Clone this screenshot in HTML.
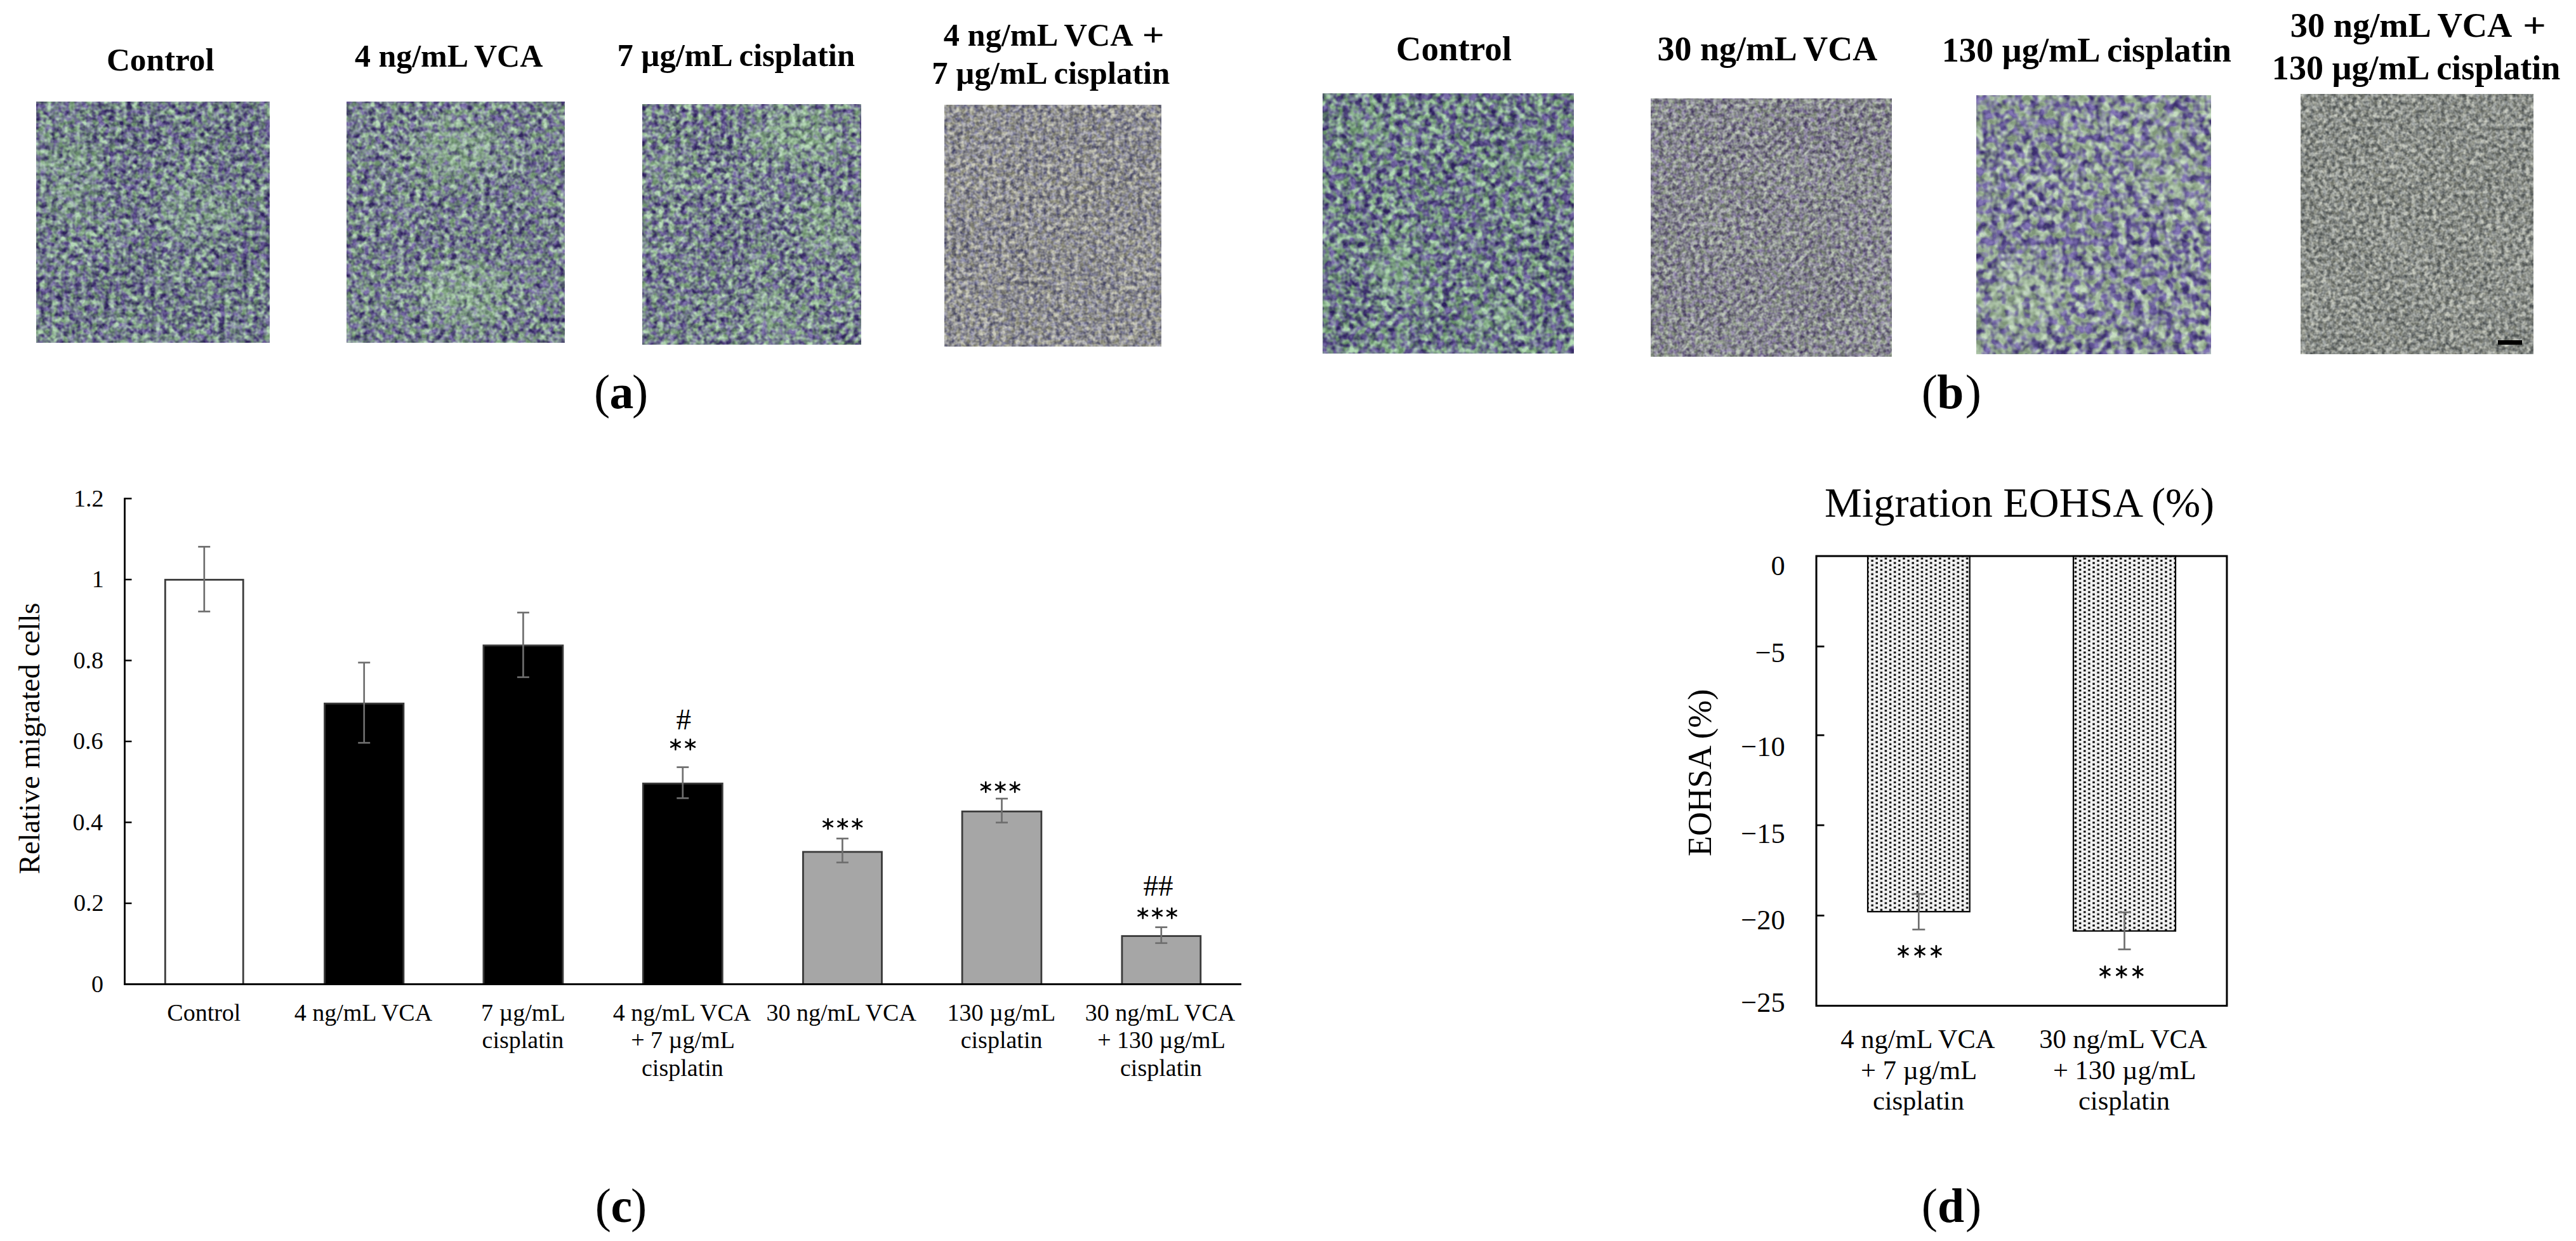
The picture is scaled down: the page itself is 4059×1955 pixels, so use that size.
<!DOCTYPE html>
<html><head><meta charset="utf-8"><style>
html,body{margin:0;padding:0;background:#fff;}
body{width:4059px;height:1955px;overflow:hidden;}
svg{display:block;}
text{font-family:"Liberation Serif",serif;}
</style></head><body>
<svg width="4059" height="1955" viewBox="0 0 4059 1955">
<defs>
<filter id="fm1" x="0" y="0" width="100%" height="100%" color-interpolation-filters="sRGB">
<feTurbulence type="fractalNoise" baseFrequency="0.11" numOctaves="2" seed="3" result="n0"/>
<feComponentTransfer in="n0" result="fine"><feFuncA type="linear" slope="0" intercept="1"/></feComponentTransfer>
<feTurbulence type="fractalNoise" baseFrequency="0.012" numOctaves="2" seed="103" result="c0"/>
<feComponentTransfer in="c0" result="coarse"><feFuncA type="linear" slope="0" intercept="1"/></feComponentTransfer>
<feComposite in="fine" in2="coarse" operator="arithmetic" k1="0" k2="1" k3="0.12" k4="-0.060" result="mix"/>
<feComponentTransfer in="mix" result="ct"><feFuncR type="linear" slope="2.4" intercept="-0.700"/><feFuncG type="linear" slope="2.2" intercept="-0.600"/><feFuncA type="linear" slope="0" intercept="1"/></feComponentTransfer>
<feColorMatrix in="ct" type="matrix" values="0.230 0.300 0 0 0.180 0.420 0.300 0 0 0.130 0.060 0.300 0 0 0.360 0 0 0 0 1"/>
<feGaussianBlur stdDeviation="0.6"/>
</filter>
<filter id="fm1g" x="0" y="0" width="100%" height="100%" color-interpolation-filters="sRGB">
<feTurbulence type="fractalNoise" baseFrequency="0.11" numOctaves="2" seed="3" result="n0"/>
<feComponentTransfer in="n0" result="fine"><feFuncA type="linear" slope="0" intercept="1"/></feComponentTransfer>
<feTurbulence type="fractalNoise" baseFrequency="0.012" numOctaves="2" seed="103" result="c0"/>
<feComponentTransfer in="c0" result="coarse"><feFuncA type="linear" slope="0" intercept="1"/></feComponentTransfer>
<feComposite in="fine" in2="coarse" operator="arithmetic" k1="0" k2="1" k3="0.12" k4="-0.060" result="mix"/>
<feComponentTransfer in="mix" result="ct"><feFuncR type="linear" slope="2.4" intercept="-0.250"/><feFuncG type="linear" slope="2.2" intercept="-0.600"/><feFuncA type="linear" slope="0" intercept="1"/></feComponentTransfer>
<feColorMatrix in="ct" type="matrix" values="0.230 0.300 0 0 0.180 0.420 0.300 0 0 0.130 0.060 0.300 0 0 0.360 0 0 0 0 1"/>
<feGaussianBlur stdDeviation="0.6"/>
</filter>
<filter id="fm2" x="0" y="0" width="100%" height="100%" color-interpolation-filters="sRGB">
<feTurbulence type="fractalNoise" baseFrequency="0.11" numOctaves="2" seed="7" result="n0"/>
<feComponentTransfer in="n0" result="fine"><feFuncA type="linear" slope="0" intercept="1"/></feComponentTransfer>
<feTurbulence type="fractalNoise" baseFrequency="0.012" numOctaves="2" seed="107" result="c0"/>
<feComponentTransfer in="c0" result="coarse"><feFuncA type="linear" slope="0" intercept="1"/></feComponentTransfer>
<feComposite in="fine" in2="coarse" operator="arithmetic" k1="0" k2="1" k3="0.12" k4="-0.060" result="mix"/>
<feComponentTransfer in="mix" result="ct"><feFuncR type="linear" slope="2.4" intercept="-0.700"/><feFuncG type="linear" slope="2.2" intercept="-0.600"/><feFuncA type="linear" slope="0" intercept="1"/></feComponentTransfer>
<feColorMatrix in="ct" type="matrix" values="0.240 0.300 0 0 0.190 0.430 0.300 0 0 0.140 0.060 0.300 0 0 0.370 0 0 0 0 1"/>
<feGaussianBlur stdDeviation="0.6"/>
</filter>
<filter id="fm2g" x="0" y="0" width="100%" height="100%" color-interpolation-filters="sRGB">
<feTurbulence type="fractalNoise" baseFrequency="0.11" numOctaves="2" seed="7" result="n0"/>
<feComponentTransfer in="n0" result="fine"><feFuncA type="linear" slope="0" intercept="1"/></feComponentTransfer>
<feTurbulence type="fractalNoise" baseFrequency="0.012" numOctaves="2" seed="107" result="c0"/>
<feComponentTransfer in="c0" result="coarse"><feFuncA type="linear" slope="0" intercept="1"/></feComponentTransfer>
<feComposite in="fine" in2="coarse" operator="arithmetic" k1="0" k2="1" k3="0.12" k4="-0.060" result="mix"/>
<feComponentTransfer in="mix" result="ct"><feFuncR type="linear" slope="2.4" intercept="-0.250"/><feFuncG type="linear" slope="2.2" intercept="-0.600"/><feFuncA type="linear" slope="0" intercept="1"/></feComponentTransfer>
<feColorMatrix in="ct" type="matrix" values="0.240 0.300 0 0 0.190 0.430 0.300 0 0 0.140 0.060 0.300 0 0 0.370 0 0 0 0 1"/>
<feGaussianBlur stdDeviation="0.6"/>
</filter>
<filter id="fm3" x="0" y="0" width="100%" height="100%" color-interpolation-filters="sRGB">
<feTurbulence type="fractalNoise" baseFrequency="0.11" numOctaves="2" seed="11" result="n0"/>
<feComponentTransfer in="n0" result="fine"><feFuncA type="linear" slope="0" intercept="1"/></feComponentTransfer>
<feTurbulence type="fractalNoise" baseFrequency="0.012" numOctaves="2" seed="111" result="c0"/>
<feComponentTransfer in="c0" result="coarse"><feFuncA type="linear" slope="0" intercept="1"/></feComponentTransfer>
<feComposite in="fine" in2="coarse" operator="arithmetic" k1="0" k2="1" k3="0.12" k4="-0.060" result="mix"/>
<feComponentTransfer in="mix" result="ct"><feFuncR type="linear" slope="2.4" intercept="-0.700"/><feFuncG type="linear" slope="2.2" intercept="-0.600"/><feFuncA type="linear" slope="0" intercept="1"/></feComponentTransfer>
<feColorMatrix in="ct" type="matrix" values="0.240 0.300 0 0 0.190 0.430 0.300 0 0 0.140 0.060 0.300 0 0 0.370 0 0 0 0 1"/>
<feGaussianBlur stdDeviation="0.6"/>
</filter>
<filter id="fm3g" x="0" y="0" width="100%" height="100%" color-interpolation-filters="sRGB">
<feTurbulence type="fractalNoise" baseFrequency="0.11" numOctaves="2" seed="11" result="n0"/>
<feComponentTransfer in="n0" result="fine"><feFuncA type="linear" slope="0" intercept="1"/></feComponentTransfer>
<feTurbulence type="fractalNoise" baseFrequency="0.012" numOctaves="2" seed="111" result="c0"/>
<feComponentTransfer in="c0" result="coarse"><feFuncA type="linear" slope="0" intercept="1"/></feComponentTransfer>
<feComposite in="fine" in2="coarse" operator="arithmetic" k1="0" k2="1" k3="0.12" k4="-0.060" result="mix"/>
<feComponentTransfer in="mix" result="ct"><feFuncR type="linear" slope="2.4" intercept="-0.250"/><feFuncG type="linear" slope="2.2" intercept="-0.600"/><feFuncA type="linear" slope="0" intercept="1"/></feComponentTransfer>
<feColorMatrix in="ct" type="matrix" values="0.240 0.300 0 0 0.190 0.430 0.300 0 0 0.140 0.060 0.300 0 0 0.370 0 0 0 0 1"/>
<feGaussianBlur stdDeviation="0.6"/>
</filter>
<filter id="fm4" x="0" y="0" width="100%" height="100%" color-interpolation-filters="sRGB">
<feTurbulence type="fractalNoise" baseFrequency="0.14" numOctaves="2" seed="13" result="n0"/>
<feComponentTransfer in="n0" result="fine"><feFuncA type="linear" slope="0" intercept="1"/></feComponentTransfer>
<feTurbulence type="fractalNoise" baseFrequency="0.012" numOctaves="2" seed="113" result="c0"/>
<feComponentTransfer in="c0" result="coarse"><feFuncA type="linear" slope="0" intercept="1"/></feComponentTransfer>
<feComposite in="fine" in2="coarse" operator="arithmetic" k1="0" k2="1" k3="0.1" k4="-0.050" result="mix"/>
<feComponentTransfer in="mix" result="ct"><feFuncR type="linear" slope="2.0" intercept="-0.400"/><feFuncG type="linear" slope="2.2" intercept="-0.600"/><feFuncA type="linear" slope="0" intercept="1"/></feComponentTransfer>
<feColorMatrix in="ct" type="matrix" values="0.230 0.300 0 0 0.270 0.230 0.300 0 0 0.270 0.050 0.300 0 0 0.390 0 0 0 0 1"/>
<feGaussianBlur stdDeviation="0.6"/>
</filter>
<filter id="fm4g" x="0" y="0" width="100%" height="100%" color-interpolation-filters="sRGB">
<feTurbulence type="fractalNoise" baseFrequency="0.14" numOctaves="2" seed="13" result="n0"/>
<feComponentTransfer in="n0" result="fine"><feFuncA type="linear" slope="0" intercept="1"/></feComponentTransfer>
<feTurbulence type="fractalNoise" baseFrequency="0.012" numOctaves="2" seed="113" result="c0"/>
<feComponentTransfer in="c0" result="coarse"><feFuncA type="linear" slope="0" intercept="1"/></feComponentTransfer>
<feComposite in="fine" in2="coarse" operator="arithmetic" k1="0" k2="1" k3="0.1" k4="-0.050" result="mix"/>
<feComponentTransfer in="mix" result="ct"><feFuncR type="linear" slope="2.0" intercept="0.050"/><feFuncG type="linear" slope="2.2" intercept="-0.600"/><feFuncA type="linear" slope="0" intercept="1"/></feComponentTransfer>
<feColorMatrix in="ct" type="matrix" values="0.230 0.300 0 0 0.270 0.230 0.300 0 0 0.270 0.050 0.300 0 0 0.390 0 0 0 0 1"/>
<feGaussianBlur stdDeviation="0.6"/>
</filter>
<filter id="fm5" x="0" y="0" width="100%" height="100%" color-interpolation-filters="sRGB">
<feTurbulence type="fractalNoise" baseFrequency="0.095" numOctaves="2" seed="17" result="n0"/>
<feComponentTransfer in="n0" result="fine"><feFuncA type="linear" slope="0" intercept="1"/></feComponentTransfer>
<feTurbulence type="fractalNoise" baseFrequency="0.012" numOctaves="2" seed="117" result="c0"/>
<feComponentTransfer in="c0" result="coarse"><feFuncA type="linear" slope="0" intercept="1"/></feComponentTransfer>
<feComposite in="fine" in2="coarse" operator="arithmetic" k1="0" k2="1" k3="0.12" k4="-0.060" result="mix"/>
<feComponentTransfer in="mix" result="ct"><feFuncR type="linear" slope="2.8" intercept="-0.900"/><feFuncG type="linear" slope="2.2" intercept="-0.600"/><feFuncA type="linear" slope="0" intercept="1"/></feComponentTransfer>
<feColorMatrix in="ct" type="matrix" values="0.230 0.300 0 0 0.170 0.440 0.300 0 0 0.120 0.050 0.300 0 0 0.360 0 0 0 0 1"/>
<feGaussianBlur stdDeviation="0.6"/>
</filter>
<filter id="fm5g" x="0" y="0" width="100%" height="100%" color-interpolation-filters="sRGB">
<feTurbulence type="fractalNoise" baseFrequency="0.095" numOctaves="2" seed="17" result="n0"/>
<feComponentTransfer in="n0" result="fine"><feFuncA type="linear" slope="0" intercept="1"/></feComponentTransfer>
<feTurbulence type="fractalNoise" baseFrequency="0.012" numOctaves="2" seed="117" result="c0"/>
<feComponentTransfer in="c0" result="coarse"><feFuncA type="linear" slope="0" intercept="1"/></feComponentTransfer>
<feComposite in="fine" in2="coarse" operator="arithmetic" k1="0" k2="1" k3="0.12" k4="-0.060" result="mix"/>
<feComponentTransfer in="mix" result="ct"><feFuncR type="linear" slope="2.8" intercept="-0.450"/><feFuncG type="linear" slope="2.2" intercept="-0.600"/><feFuncA type="linear" slope="0" intercept="1"/></feComponentTransfer>
<feColorMatrix in="ct" type="matrix" values="0.230 0.300 0 0 0.170 0.440 0.300 0 0 0.120 0.050 0.300 0 0 0.360 0 0 0 0 1"/>
<feGaussianBlur stdDeviation="0.6"/>
</filter>
<filter id="fm6" x="0" y="0" width="100%" height="100%" color-interpolation-filters="sRGB">
<feTurbulence type="fractalNoise" baseFrequency="0.14" numOctaves="2" seed="19" result="n0"/>
<feComponentTransfer in="n0" result="fine"><feFuncA type="linear" slope="0" intercept="1"/></feComponentTransfer>
<feTurbulence type="fractalNoise" baseFrequency="0.012" numOctaves="2" seed="119" result="c0"/>
<feComponentTransfer in="c0" result="coarse"><feFuncA type="linear" slope="0" intercept="1"/></feComponentTransfer>
<feComposite in="fine" in2="coarse" operator="arithmetic" k1="0" k2="1" k3="0.1" k4="-0.050" result="mix"/>
<feComponentTransfer in="mix" result="ct"><feFuncR type="linear" slope="2.0" intercept="-0.400"/><feFuncG type="linear" slope="2.2" intercept="-0.600"/><feFuncA type="linear" slope="0" intercept="1"/></feComponentTransfer>
<feColorMatrix in="ct" type="matrix" values="0.180 0.300 0 0 0.270 0.270 0.300 0 0 0.220 0.050 0.300 0 0 0.380 0 0 0 0 1"/>
<feGaussianBlur stdDeviation="0.6"/>
</filter>
<filter id="fm6g" x="0" y="0" width="100%" height="100%" color-interpolation-filters="sRGB">
<feTurbulence type="fractalNoise" baseFrequency="0.14" numOctaves="2" seed="19" result="n0"/>
<feComponentTransfer in="n0" result="fine"><feFuncA type="linear" slope="0" intercept="1"/></feComponentTransfer>
<feTurbulence type="fractalNoise" baseFrequency="0.012" numOctaves="2" seed="119" result="c0"/>
<feComponentTransfer in="c0" result="coarse"><feFuncA type="linear" slope="0" intercept="1"/></feComponentTransfer>
<feComposite in="fine" in2="coarse" operator="arithmetic" k1="0" k2="1" k3="0.1" k4="-0.050" result="mix"/>
<feComponentTransfer in="mix" result="ct"><feFuncR type="linear" slope="2.0" intercept="0.050"/><feFuncG type="linear" slope="2.2" intercept="-0.600"/><feFuncA type="linear" slope="0" intercept="1"/></feComponentTransfer>
<feColorMatrix in="ct" type="matrix" values="0.180 0.300 0 0 0.270 0.270 0.300 0 0 0.220 0.050 0.300 0 0 0.380 0 0 0 0 1"/>
<feGaussianBlur stdDeviation="0.6"/>
</filter>
<filter id="fm7" x="0" y="0" width="100%" height="100%" color-interpolation-filters="sRGB">
<feTurbulence type="fractalNoise" baseFrequency="0.08" numOctaves="2" seed="23" result="n0"/>
<feComponentTransfer in="n0" result="fine"><feFuncA type="linear" slope="0" intercept="1"/></feComponentTransfer>
<feTurbulence type="fractalNoise" baseFrequency="0.012" numOctaves="2" seed="123" result="c0"/>
<feComponentTransfer in="c0" result="coarse"><feFuncA type="linear" slope="0" intercept="1"/></feComponentTransfer>
<feComposite in="fine" in2="coarse" operator="arithmetic" k1="0" k2="1" k3="0.12" k4="-0.060" result="mix"/>
<feComponentTransfer in="mix" result="ct"><feFuncR type="linear" slope="3.2" intercept="-1.060"/><feFuncG type="linear" slope="2.2" intercept="-0.600"/><feFuncA type="linear" slope="0" intercept="1"/></feComponentTransfer>
<feColorMatrix in="ct" type="matrix" values="0.270 0.280 0 0 0.230 0.410 0.280 0 0 0.180 0.050 0.280 0 0 0.430 0 0 0 0 1"/>
<feGaussianBlur stdDeviation="0.6"/>
</filter>
<filter id="fm7g" x="0" y="0" width="100%" height="100%" color-interpolation-filters="sRGB">
<feTurbulence type="fractalNoise" baseFrequency="0.08" numOctaves="2" seed="23" result="n0"/>
<feComponentTransfer in="n0" result="fine"><feFuncA type="linear" slope="0" intercept="1"/></feComponentTransfer>
<feTurbulence type="fractalNoise" baseFrequency="0.012" numOctaves="2" seed="123" result="c0"/>
<feComponentTransfer in="c0" result="coarse"><feFuncA type="linear" slope="0" intercept="1"/></feComponentTransfer>
<feComposite in="fine" in2="coarse" operator="arithmetic" k1="0" k2="1" k3="0.12" k4="-0.060" result="mix"/>
<feComponentTransfer in="mix" result="ct"><feFuncR type="linear" slope="3.2" intercept="-0.610"/><feFuncG type="linear" slope="2.2" intercept="-0.600"/><feFuncA type="linear" slope="0" intercept="1"/></feComponentTransfer>
<feColorMatrix in="ct" type="matrix" values="0.270 0.280 0 0 0.230 0.410 0.280 0 0 0.180 0.050 0.280 0 0 0.430 0 0 0 0 1"/>
<feGaussianBlur stdDeviation="0.6"/>
</filter>
<filter id="fm8" x="0" y="0" width="100%" height="100%" color-interpolation-filters="sRGB">
<feTurbulence type="fractalNoise" baseFrequency="0.15" numOctaves="2" seed="29" result="n0"/>
<feComponentTransfer in="n0" result="fine"><feFuncA type="linear" slope="0" intercept="1"/></feComponentTransfer>
<feTurbulence type="fractalNoise" baseFrequency="0.012" numOctaves="2" seed="129" result="c0"/>
<feComponentTransfer in="c0" result="coarse"><feFuncA type="linear" slope="0" intercept="1"/></feComponentTransfer>
<feComposite in="fine" in2="coarse" operator="arithmetic" k1="0" k2="1" k3="0.1" k4="-0.050" result="mix"/>
<feComponentTransfer in="mix" result="ct"><feFuncR type="linear" slope="2.0" intercept="-0.500"/><feFuncG type="linear" slope="2.2" intercept="-0.600"/><feFuncA type="linear" slope="0" intercept="1"/></feComponentTransfer>
<feColorMatrix in="ct" type="matrix" values="0.190 0.300 0 0 0.300 0.180 0.300 0 0 0.320 0.140 0.300 0 0 0.320 0 0 0 0 1"/>
<feGaussianBlur stdDeviation="0.6"/>
</filter>
<filter id="fm8g" x="0" y="0" width="100%" height="100%" color-interpolation-filters="sRGB">
<feTurbulence type="fractalNoise" baseFrequency="0.15" numOctaves="2" seed="29" result="n0"/>
<feComponentTransfer in="n0" result="fine"><feFuncA type="linear" slope="0" intercept="1"/></feComponentTransfer>
<feTurbulence type="fractalNoise" baseFrequency="0.012" numOctaves="2" seed="129" result="c0"/>
<feComponentTransfer in="c0" result="coarse"><feFuncA type="linear" slope="0" intercept="1"/></feComponentTransfer>
<feComposite in="fine" in2="coarse" operator="arithmetic" k1="0" k2="1" k3="0.1" k4="-0.050" result="mix"/>
<feComponentTransfer in="mix" result="ct"><feFuncR type="linear" slope="2.0" intercept="-0.050"/><feFuncG type="linear" slope="2.2" intercept="-0.600"/><feFuncA type="linear" slope="0" intercept="1"/></feComponentTransfer>
<feColorMatrix in="ct" type="matrix" values="0.190 0.300 0 0 0.300 0.180 0.300 0 0 0.320 0.140 0.300 0 0 0.320 0 0 0 0 1"/>
<feGaussianBlur stdDeviation="0.6"/>
</filter>
<radialGradient id="gpm"><stop offset="0" stop-color="#fff" stop-opacity="1"/><stop offset="0.55" stop-color="#fff" stop-opacity="0.7"/><stop offset="1" stop-color="#fff" stop-opacity="0"/></radialGradient>
<mask id="mk0" maskUnits="userSpaceOnUse" x="57" y="160" width="368" height="380"><ellipse cx="110" cy="280" rx="70" ry="90" fill="url(#gpm)" opacity="0.6"/><ellipse cx="315" cy="340" rx="80" ry="60" fill="url(#gpm)" opacity="0.6"/></mask>
<mask id="mk1" maskUnits="userSpaceOnUse" x="546" y="160.5" width="344" height="379.5"><ellipse cx="720" cy="240" rx="80" ry="75" fill="url(#gpm)" opacity="0.8"/><ellipse cx="735" cy="465" rx="90" ry="70" fill="url(#gpm)" opacity="0.8"/></mask>
<mask id="mk2" maskUnits="userSpaceOnUse" x="1012" y="164.5" width="345" height="378.5"><ellipse cx="1250" cy="215" rx="100" ry="55" fill="url(#gpm)" opacity="0.85"/><ellipse cx="1300" cy="355" rx="55" ry="65" fill="url(#gpm)" opacity="0.8"/><ellipse cx="1215" cy="490" rx="55" ry="45" fill="url(#gpm)" opacity="0.8"/><ellipse cx="1055" cy="265" rx="45" ry="40" fill="url(#gpm)" opacity="0.5"/></mask>
<mask id="mk4" maskUnits="userSpaceOnUse" x="2084" y="147" width="396" height="410"><ellipse cx="2150" cy="200" rx="50" ry="45" fill="url(#gpm)" opacity="0.6"/><ellipse cx="2400" cy="240" rx="60" ry="50" fill="url(#gpm)" opacity="0.5"/><ellipse cx="2200" cy="430" rx="60" ry="60" fill="url(#gpm)" opacity="0.6"/><ellipse cx="2350" cy="500" rx="50" ry="40" fill="url(#gpm)" opacity="0.5"/></mask>
<mask id="mk6" maskUnits="userSpaceOnUse" x="3114" y="150.5" width="370" height="407.5"><ellipse cx="3185" cy="480" rx="80" ry="80" fill="url(#gpm)" opacity="0.9"/><ellipse cx="3420" cy="250" rx="60" ry="90" fill="url(#gpm)" opacity="0.6"/></mask>
<pattern id="dots" patternUnits="userSpaceOnUse" x="2941" y="878" width="14.24" height="7.05">
<rect width="14.24" height="7.05" fill="#f2f2f2"/><rect x="0.3" y="0.4" width="3.4" height="3.0" fill="#000"/><rect x="7.42" y="3.92" width="3.4" height="3.0" fill="#000"/></pattern>
</defs>
<rect width="4059" height="1955" fill="#fff"/>
<rect x="57.0" y="160.0" width="368.0" height="380.0" fill="#888" filter="url(#fm1)"/>
<rect x="57.0" y="160.0" width="368.0" height="380.0" fill="#888" filter="url(#fm1g)" mask="url(#mk0)"/>
<rect x="546.0" y="160.5" width="344.0" height="379.5" fill="#888" filter="url(#fm2)"/>
<rect x="546.0" y="160.5" width="344.0" height="379.5" fill="#888" filter="url(#fm2g)" mask="url(#mk1)"/>
<rect x="1012.0" y="164.5" width="345.0" height="378.5" fill="#888" filter="url(#fm3)"/>
<rect x="1012.0" y="164.5" width="345.0" height="378.5" fill="#888" filter="url(#fm3g)" mask="url(#mk2)"/>
<rect x="1488.0" y="165.0" width="342.0" height="381.0" fill="#888" filter="url(#fm4)"/>
<rect x="2084.0" y="147.0" width="396.0" height="410.0" fill="#888" filter="url(#fm5)"/>
<rect x="2084.0" y="147.0" width="396.0" height="410.0" fill="#888" filter="url(#fm5g)" mask="url(#mk4)"/>
<rect x="2601.0" y="155.0" width="380.0" height="407.0" fill="#888" filter="url(#fm6)"/>
<rect x="3114.0" y="150.5" width="370.0" height="407.5" fill="#888" filter="url(#fm7)"/>
<rect x="3114.0" y="150.5" width="370.0" height="407.5" fill="#888" filter="url(#fm7g)" mask="url(#mk6)"/>
<rect x="3625.0" y="148.0" width="367.0" height="410.0" fill="#888" filter="url(#fm8)"/>
<rect x="3936.0" y="536.0" width="38.0" height="7.0" fill="#000" />
<text transform="translate(167.90,110.60) scale(1.0140,1)" font-size="50.5" font-weight="bold" fill="#000">Control</text>
<text transform="translate(558.92,105.20) scale(0.9902,1)" font-size="50.5" font-weight="bold" fill="#000">4 ng/mL VCA</text>
<text transform="translate(972.41,103.80) scale(1.0014,1)" font-size="50.5" font-weight="bold" fill="#000">7 µg/mL cisplatin</text>
<text transform="translate(1486.81,71.60) scale(0.9985,1)" font-size="50.5" font-weight="bold" fill="#000">4 ng/mL VCA</text>
<text transform="translate(1799.77,71.60) scale(1.2141,1)" font-size="50.5" font-weight="bold" fill="#000">+</text>
<text transform="translate(1468.31,131.50) scale(1.0022,1)" font-size="50.5" font-weight="bold" fill="#000">7 µg/mL cisplatin</text>
<text transform="translate(2199.72,94.70) scale(1.0124,1)" font-size="54.3" font-weight="bold" fill="#000">Control</text>
<text transform="translate(2611.57,95.00) scale(0.9930,1)" font-size="54.3" font-weight="bold" fill="#000">30 ng/mL VCA</text>
<text transform="translate(3059.65,97.00) scale(0.9993,1)" font-size="54.3" font-weight="bold" fill="#000">130 µg/mL cisplatin</text>
<text transform="translate(3608.75,58.10) scale(1.0019,1)" font-size="54.3" font-weight="bold" fill="#000">30 ng/mL VCA</text>
<text transform="translate(3974.99,58.10) scale(1.1925,1)" font-size="54.3" font-weight="bold" fill="#000">+</text>
<text transform="translate(3579.87,125.00) scale(0.9953,1)" font-size="54.3" font-weight="bold" fill="#000">130 µg/mL cisplatin</text>
<text x="935.9" y="642.5" font-size="75.7" font-weight="normal" fill="#000" >(</text>
<text x="960.6" y="642.5" font-size="75.7" font-weight="bold" fill="#000" >a</text>
<text x="995.9" y="642.5" font-size="75.7" font-weight="normal" fill="#000">)</text>
<text x="3027.8" y="642.5" font-size="75.7" font-weight="normal" fill="#000" >(</text>
<text x="3052.3" y="642.5" font-size="75.7" font-weight="bold" fill="#000" >b</text>
<text x="3096.7" y="642.5" font-size="75.7" font-weight="normal" fill="#000">)</text>
<text x="937.7" y="1925.3" font-size="75.7" font-weight="normal" fill="#000" >(</text>
<text x="962.5" y="1925.3" font-size="75.7" font-weight="bold" fill="#000" >c</text>
<text x="994.0" y="1925.3" font-size="75.7" font-weight="normal" fill="#000">)</text>
<text x="3027.7" y="1925.3" font-size="75.7" font-weight="normal" fill="#000" >(</text>
<text x="3052.9" y="1925.3" font-size="75.7" font-weight="bold" fill="#000" >d</text>
<text x="3097.0" y="1925.3" font-size="75.7" font-weight="normal" fill="#000">)</text>
<line x1="196.5" y1="1550.5" x2="207.5" y2="1550.5" stroke="#000" stroke-width="2.5" />
<text x="143.9" y="1562.7" font-size="38" font-weight="normal" fill="#000">0</text>
<line x1="196.5" y1="1423.0" x2="207.5" y2="1423.0" stroke="#000" stroke-width="2.5" />
<text x="116.1" y="1435.2" font-size="38" font-weight="normal" fill="#000">0.2</text>
<line x1="196.5" y1="1295.5" x2="207.5" y2="1295.5" stroke="#000" stroke-width="2.5" />
<text x="114.6" y="1307.7" font-size="38" font-weight="normal" fill="#000">0.4</text>
<line x1="196.5" y1="1168.0" x2="207.5" y2="1168.0" stroke="#000" stroke-width="2.5" />
<text x="115.1" y="1180.2" font-size="38" font-weight="normal" fill="#000">0.6</text>
<line x1="196.5" y1="1040.5" x2="207.5" y2="1040.5" stroke="#000" stroke-width="2.5" />
<text x="115.4" y="1052.7" font-size="38" font-weight="normal" fill="#000">0.8</text>
<line x1="196.5" y1="913.0" x2="207.5" y2="913.0" stroke="#000" stroke-width="2.5" />
<text x="144.8" y="925.2" font-size="38" font-weight="normal" fill="#000">1</text>
<line x1="196.5" y1="785.4" x2="207.5" y2="785.4" stroke="#000" stroke-width="2.5" />
<text x="116.1" y="797.6" font-size="38" font-weight="normal" fill="#000">1.2</text>
<rect x="260.3" y="913.3" width="122.9" height="637.2" fill="#fff" stroke="#3a3a3a" stroke-width="2.8" />
<rect x="511.5" y="1108.3" width="124.4" height="442.2" fill="#000" stroke="#3a3a3a" stroke-width="2.8" />
<rect x="761.9" y="1016.8" width="125.0" height="533.7" fill="#000" stroke="#3a3a3a" stroke-width="2.8" />
<rect x="1013.3" y="1234.3" width="125.0" height="316.2" fill="#000" stroke="#3a3a3a" stroke-width="2.8" />
<rect x="1265.4" y="1342.0" width="124.1" height="208.5" fill="#a6a6a6" stroke="#3a3a3a" stroke-width="2.8" />
<rect x="1516.1" y="1278.3" width="124.8" height="272.2" fill="#a6a6a6" stroke="#3a3a3a" stroke-width="2.8" />
<rect x="1767.9" y="1474.6" width="123.9" height="75.9" fill="#a6a6a6" stroke="#3a3a3a" stroke-width="2.8" />
<line x1="321.8" y1="861.3" x2="321.8" y2="963.3" stroke="#6e6e6e" stroke-width="2.7" />
<line x1="312.2" y1="861.3" x2="331.2" y2="861.3" stroke="#6e6e6e" stroke-width="2.7" />
<line x1="312.2" y1="963.3" x2="331.2" y2="963.3" stroke="#6e6e6e" stroke-width="2.7" />
<line x1="573.7" y1="1043.8" x2="573.7" y2="1170.2" stroke="#6e6e6e" stroke-width="2.7" />
<line x1="564.2" y1="1043.8" x2="583.2" y2="1043.8" stroke="#6e6e6e" stroke-width="2.7" />
<line x1="564.2" y1="1170.2" x2="583.2" y2="1170.2" stroke="#6e6e6e" stroke-width="2.7" />
<line x1="824.4" y1="965.0" x2="824.4" y2="1066.8" stroke="#6e6e6e" stroke-width="2.7" />
<line x1="814.9" y1="965.0" x2="833.9" y2="965.0" stroke="#6e6e6e" stroke-width="2.7" />
<line x1="814.9" y1="1066.8" x2="833.9" y2="1066.8" stroke="#6e6e6e" stroke-width="2.7" />
<line x1="1075.8" y1="1208.6" x2="1075.8" y2="1257.4" stroke="#6e6e6e" stroke-width="2.7" />
<line x1="1066.3" y1="1208.6" x2="1085.3" y2="1208.6" stroke="#6e6e6e" stroke-width="2.7" />
<line x1="1066.3" y1="1257.4" x2="1085.3" y2="1257.4" stroke="#6e6e6e" stroke-width="2.7" />
<line x1="1327.4" y1="1321.0" x2="1327.4" y2="1358.7" stroke="#6e6e6e" stroke-width="2.7" />
<line x1="1317.9" y1="1321.0" x2="1336.9" y2="1321.0" stroke="#6e6e6e" stroke-width="2.7" />
<line x1="1317.9" y1="1358.7" x2="1336.9" y2="1358.7" stroke="#6e6e6e" stroke-width="2.7" />
<line x1="1578.5" y1="1258.1" x2="1578.5" y2="1295.8" stroke="#6e6e6e" stroke-width="2.7" />
<line x1="1569.0" y1="1258.1" x2="1588.0" y2="1258.1" stroke="#6e6e6e" stroke-width="2.7" />
<line x1="1569.0" y1="1295.8" x2="1588.0" y2="1295.8" stroke="#6e6e6e" stroke-width="2.7" />
<line x1="1829.8" y1="1460.7" x2="1829.8" y2="1485.7" stroke="#6e6e6e" stroke-width="2.7" />
<line x1="1820.3" y1="1460.7" x2="1839.3" y2="1460.7" stroke="#6e6e6e" stroke-width="2.7" />
<line x1="1820.3" y1="1485.7" x2="1839.3" y2="1485.7" stroke="#6e6e6e" stroke-width="2.7" />
<line x1="196.5" y1="784.2" x2="196.5" y2="1551.7" stroke="#000" stroke-width="2.8" />
<line x1="195.3" y1="1550.5" x2="1956.0" y2="1550.5" stroke="#000" stroke-width="2.8" />
<text x="1065.5" y="1148.9" font-size="47" font-weight="normal" fill="#000">#</text>
<path d="M1064.40,1164.90L1064.40,1180.90M1057.14,1168.88L1071.66,1176.92M1057.14,1176.92L1071.66,1168.88" stroke="#000" stroke-width="2.6" stroke-linecap="round" fill="none"/>
<path d="M1087.70,1164.90L1087.70,1180.90M1080.44,1168.88L1094.96,1176.92M1080.44,1176.92L1094.96,1168.88" stroke="#000" stroke-width="2.6" stroke-linecap="round" fill="none"/>
<path d="M1304.60,1290.00L1304.60,1306.00M1297.34,1293.98L1311.86,1302.02M1297.34,1302.02L1311.86,1293.98" stroke="#000" stroke-width="2.6" stroke-linecap="round" fill="none"/>
<path d="M1327.70,1290.00L1327.70,1306.00M1320.44,1293.98L1334.96,1302.02M1320.44,1302.02L1334.96,1293.98" stroke="#000" stroke-width="2.6" stroke-linecap="round" fill="none"/>
<path d="M1350.80,1290.00L1350.80,1306.00M1343.54,1293.98L1358.06,1302.02M1343.54,1302.02L1358.06,1293.98" stroke="#000" stroke-width="2.6" stroke-linecap="round" fill="none"/>
<path d="M1553.25,1232.00L1553.25,1248.00M1545.99,1235.98L1560.51,1244.02M1545.99,1244.02L1560.51,1235.98" stroke="#000" stroke-width="2.6" stroke-linecap="round" fill="none"/>
<path d="M1576.20,1232.00L1576.20,1248.00M1568.94,1235.98L1583.46,1244.02M1568.94,1244.02L1583.46,1235.98" stroke="#000" stroke-width="2.6" stroke-linecap="round" fill="none"/>
<path d="M1599.15,1232.00L1599.15,1248.00M1591.89,1235.98L1606.41,1244.02M1591.89,1244.02L1606.41,1235.98" stroke="#000" stroke-width="2.6" stroke-linecap="round" fill="none"/>
<text x="1801.6" y="1410.5" font-size="47" font-weight="normal" fill="#000">##</text>
<path d="M1800.75,1430.70L1800.75,1446.70M1793.49,1434.68L1808.01,1442.72M1793.49,1442.72L1808.01,1434.68" stroke="#000" stroke-width="2.6" stroke-linecap="round" fill="none"/>
<path d="M1823.55,1430.70L1823.55,1446.70M1816.29,1434.68L1830.81,1442.72M1816.29,1442.72L1830.81,1434.68" stroke="#000" stroke-width="2.6" stroke-linecap="round" fill="none"/>
<path d="M1846.35,1430.70L1846.35,1446.70M1839.09,1434.68L1853.61,1442.72M1839.09,1442.72L1853.61,1434.68" stroke="#000" stroke-width="2.6" stroke-linecap="round" fill="none"/>
<text x="263.3" y="1607.8" font-size="38" font-weight="normal" fill="#000">Control</text>
<text x="463.7" y="1607.8" font-size="38" font-weight="normal" fill="#000">4 ng/mL VCA</text>
<text x="757.9" y="1607.8" font-size="38" font-weight="normal" fill="#000">7 µg/mL</text>
<text x="759.6" y="1651.4" font-size="38" font-weight="normal" fill="#000">cisplatin</text>
<text x="965.8" y="1607.8" font-size="38" font-weight="normal" fill="#000">4 ng/mL VCA</text>
<text x="994.2" y="1651.4" font-size="38" font-weight="normal" fill="#000">+ 7 µg/mL</text>
<text x="1011.0" y="1694.8" font-size="38" font-weight="normal" fill="#000">cisplatin</text>
<text x="1207.4" y="1607.8" font-size="38" font-weight="normal" fill="#000">30 ng/mL VCA</text>
<text x="1492.6" y="1607.8" font-size="38" font-weight="normal" fill="#000">130 µg/mL</text>
<text x="1513.7" y="1651.4" font-size="38" font-weight="normal" fill="#000">cisplatin</text>
<text x="1709.8" y="1607.8" font-size="38" font-weight="normal" fill="#000">30 ng/mL VCA</text>
<text x="1729.2" y="1651.4" font-size="38" font-weight="normal" fill="#000">+ 130 µg/mL</text>
<text x="1765.0" y="1694.8" font-size="38" font-weight="normal" fill="#000">cisplatin</text>
<text transform="translate(61.8,1377.0) rotate(-90)" x="0" y="0" font-size="46.4">Relative migrated cells</text>
<rect x="2943.0" y="876.0" width="160.7" height="560.2" fill="url(#dots)" stroke="#000" stroke-width="2.2" />
<rect x="3267.0" y="876.0" width="161.0" height="590.6" fill="url(#dots)" stroke="#000" stroke-width="2.2" />
<line x1="3023.3" y1="1408.2" x2="3023.3" y2="1464.3" stroke="#6e6e6e" stroke-width="2.7" />
<line x1="3013.3" y1="1408.2" x2="3033.3" y2="1408.2" stroke="#6e6e6e" stroke-width="2.7" />
<line x1="3013.3" y1="1464.3" x2="3033.3" y2="1464.3" stroke="#6e6e6e" stroke-width="2.7" />
<line x1="3347.5" y1="1437.2" x2="3347.5" y2="1495.6" stroke="#6e6e6e" stroke-width="2.7" />
<line x1="3337.5" y1="1437.2" x2="3357.5" y2="1437.2" stroke="#6e6e6e" stroke-width="2.7" />
<line x1="3337.5" y1="1495.6" x2="3357.5" y2="1495.6" stroke="#6e6e6e" stroke-width="2.7" />
<rect x="2862.0" y="876.0" width="646.9" height="708.4" fill="none" stroke="#000" stroke-width="3" />
<text x="2790.4" y="906.0" font-size="44.5" font-weight="normal" fill="#000">0</text>
<line x1="2862.0" y1="1018.4" x2="2874.5" y2="1018.4" stroke="#000" stroke-width="2.8" />
<text x="2765.4" y="1042.8" font-size="44.5" font-weight="normal" fill="#000">−5</text>
<line x1="2862.0" y1="1158.2" x2="2874.5" y2="1158.2" stroke="#000" stroke-width="2.8" />
<text x="2743.1" y="1191.0" font-size="44.5" font-weight="normal" fill="#000">−10</text>
<line x1="2862.0" y1="1300.0" x2="2874.5" y2="1300.0" stroke="#000" stroke-width="2.8" />
<text x="2743.1" y="1328.0" font-size="44.5" font-weight="normal" fill="#000">−15</text>
<line x1="2862.0" y1="1442.3" x2="2874.5" y2="1442.3" stroke="#000" stroke-width="2.8" />
<text x="2743.1" y="1464.3" font-size="44.5" font-weight="normal" fill="#000">−20</text>
<text x="2743.1" y="1594.0" font-size="44.5" font-weight="normal" fill="#000">−25</text>
<path d="M2999.00,1490.10L2999.00,1507.70M2991.62,1494.11L3006.38,1503.69M2991.62,1503.69L3006.38,1494.11" stroke="#000" stroke-width="2.8" stroke-linecap="round" fill="none"/>
<path d="M3025.10,1490.10L3025.10,1507.70M3017.72,1494.11L3032.48,1503.69M3017.72,1503.69L3032.48,1494.11" stroke="#000" stroke-width="2.8" stroke-linecap="round" fill="none"/>
<path d="M3050.90,1490.10L3050.90,1507.70M3043.52,1494.11L3058.28,1503.69M3043.52,1503.69L3058.28,1494.11" stroke="#000" stroke-width="2.8" stroke-linecap="round" fill="none"/>
<path d="M3316.90,1522.40L3316.90,1540.00M3309.52,1526.41L3324.28,1535.99M3309.52,1535.99L3324.28,1526.41" stroke="#000" stroke-width="2.8" stroke-linecap="round" fill="none"/>
<path d="M3342.80,1522.40L3342.80,1540.00M3335.42,1526.41L3350.18,1535.99M3335.42,1535.99L3350.18,1526.41" stroke="#000" stroke-width="2.8" stroke-linecap="round" fill="none"/>
<path d="M3368.70,1522.40L3368.70,1540.00M3361.32,1526.41L3376.08,1535.99M3361.32,1535.99L3376.08,1526.41" stroke="#000" stroke-width="2.8" stroke-linecap="round" fill="none"/>
<text x="2875.1" y="814.1" font-size="66.2" font-weight="normal" fill="#000" >Migration EOHSA (%)</text>
<text x="2900.3" y="1650.7" font-size="42.5" font-weight="normal" fill="#000">4 ng/mL VCA</text>
<text x="2932.1" y="1700.0" font-size="42.5" font-weight="normal" fill="#000">+ 7 µg/mL</text>
<text x="2950.9" y="1748.1" font-size="42.5" font-weight="normal" fill="#000">cisplatin</text>
<text x="3213.2" y="1650.7" font-size="42.5" font-weight="normal" fill="#000">30 ng/mL VCA</text>
<text x="3235.0" y="1700.0" font-size="42.5" font-weight="normal" fill="#000">+ 130 µg/mL</text>
<text x="3275.0" y="1748.1" font-size="42.5" font-weight="normal" fill="#000">cisplatin</text>
<text transform="translate(2695.5,1349.0) rotate(-90)" x="0" y="0" font-size="52.4">EOHSA (%)</text>
</svg>
</body></html>
